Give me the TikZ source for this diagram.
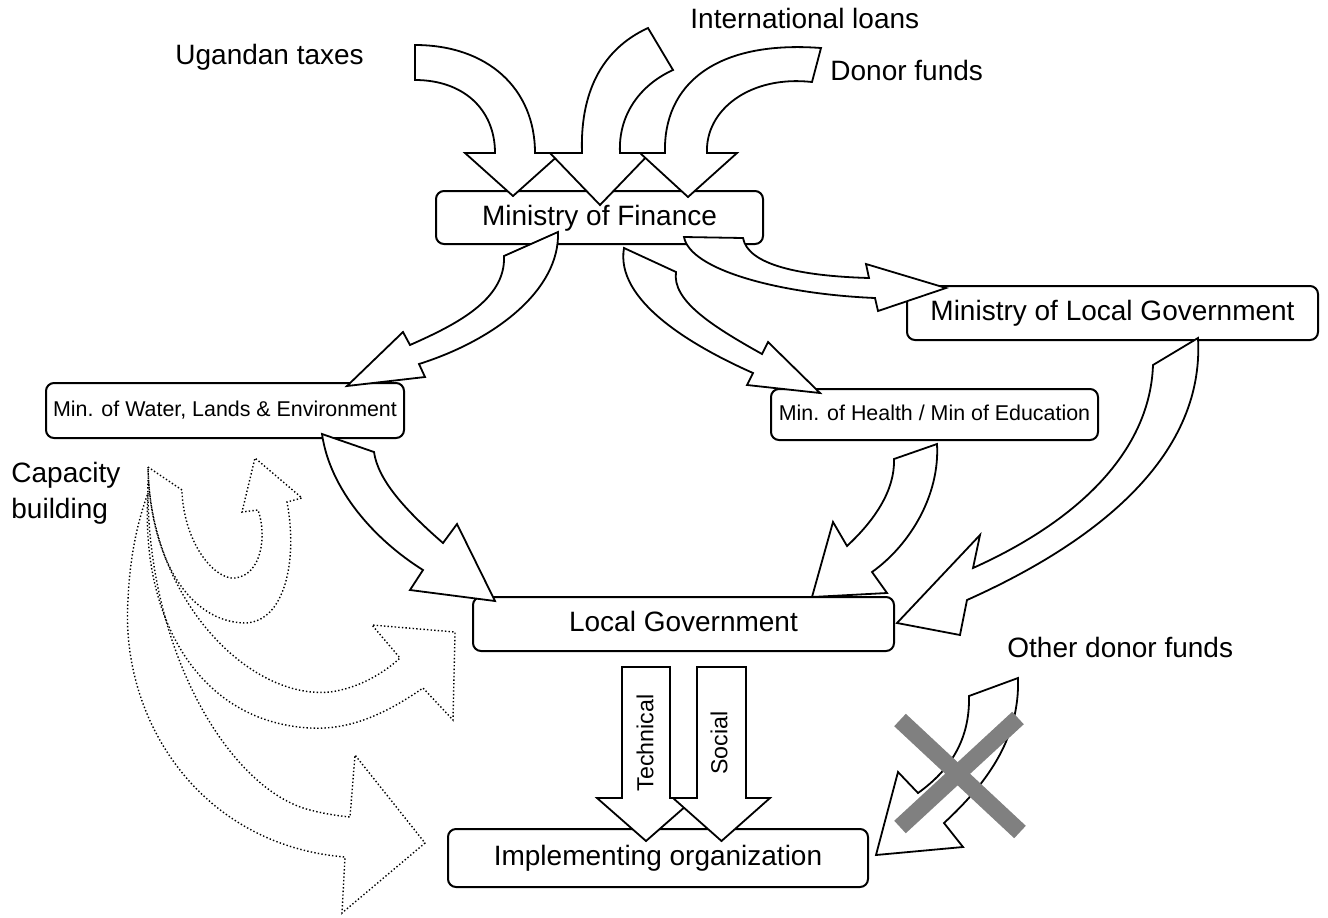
\documentclass[tikz,border=0pt]{standalone}
\usepackage{fontspec}
\setmainfont{Liberation Sans}
\definecolor{xgray}{HTML}{808080}
\begin{document}
\begin{tikzpicture}[x=0.5pt,y=-0.5pt,
  box/.style={draw, line width=1pt, rounded corners=4pt, fill=white, inner sep=0pt,
    font=\fontsize{14}{16}\selectfont, text height=10pt, text depth=2.5pt},
  sbox/.style={box, font=\fontsize{10.7}{13}\selectfont, text height=7.5pt, text depth=1.2pt},
  blk/.style={draw, fill=white, line width=0.9pt, line join=miter, miter limit=10},
  dotarrow/.style={draw, line width=0.7pt, dash pattern=on 0.7pt off 1.1pt, line join=miter},
  lbl/.style={anchor=base west, inner sep=0pt, font=\fontsize{14}{16}\selectfont},
  rlbl/.style={rotate=90, inner sep=0pt, font=\fontsize{11.6}{13}\selectfont},
  xline/.style={draw=xgray, line width=8.5pt}]
\useasboundingbox (0,0) rectangle (1328,917);

% boxes
\node[box, minimum width=163.5pt, minimum height=26.5pt] (mof) at (599.5,217.5) {Ministry of Finance};
\node[box, minimum width=205.5pt, minimum height=27pt] (mlg) at (1112.5,313) {Ministry of Local Government};
\node[sbox, minimum width=179pt, minimum height=27.5pt] (mwle) at (225,410.5) {Min. of Water, Lands \& Environment};
\node[sbox, minimum width=163.5pt, minimum height=25.5pt] (mhe) at (934.5,414.5) {Min. of Health / Min of Education};
\node[box, minimum width=210.5pt, minimum height=27pt] (lg) at (683.5,624) {Local Government};
\node[box, minimum width=210pt, minimum height=29pt] (impl) at (658,858) {Implementing organization};

% labels
\node[lbl] (ltax) at (175,64) {Ugandan taxes};
\node[lbl] (lloan) at (690,28) {International loans};
\node[lbl] (ldon) at (830,80) {Donor funds};
\node[lbl] (lcap1) at (11,482) {Capacity};
\node[lbl] (lcap2) at (11,518) {building};
\node[lbl] (lodf) at (1007,657) {Other donor funds};

% incoming arrows to Ministry of Finance
\path[blk] (415,45) .. controls (487,45) and (535,88) .. (535,153) -- (561,153) -- (513,196) -- (465,153) -- (495,153)
  .. controls (495,109) and (463,80) .. (415,80) -- cycle;
\path[blk] (582,153) .. controls (580,95) and (600,50) .. (648,28) -- (673,70)
  .. controls (640,85) and (618,115) .. (620,153) -- (650,153) -- (600,205) -- (550,153) -- cycle;
\path[blk] (665,153) .. controls (663,85) and (715,40) .. (821,48) -- (812,82)
  .. controls (750,75) and (705,110) .. (707,153) -- (737,153) -- (688,197) -- (640,153) -- cycle;

% Ministry of Finance outgoing
\path[blk] (504,256) .. controls (506,300) and (455,325) .. (410,345) -- (403,332) -- (347,386) -- (425,377) -- (419,364)
  .. controls (495,340) and (560,290) .. (558,232) -- cycle;
\path[blk] (624,248) .. controls (615,300) and (690,345) .. (753,373) -- (747,385) -- (820,393) -- (768,342) -- (762,354)
  .. controls (710,325) and (672,300) .. (676,272) -- cycle;
\path[blk] (743,238) .. controls (748,265) and (800,276) .. (869,278) -- (866,264) -- (946,288) -- (878,311) -- (875,298)
  .. controls (780,294) and (690,270) .. (684,237) -- cycle;

% to Local Government
\path[blk] (322,434) .. controls (330,490) and (375,540) .. (423,570) -- (410,590) -- (495,601) -- (457,524) -- (443,543)
  .. controls (405,510) and (378,480) .. (374,452) -- cycle;
\path[blk] (937,444) .. controls (940,495) and (910,545) .. (872,572) -- (887,593) -- (812,597) -- (833,522) -- (847,546)
  .. controls (875,520) and (895,490) .. (894,459) -- cycle;
\path[blk] (1198,338) -- (1153,365) .. controls (1150,450) and (1080,520) .. (973,568) -- (980,535) -- (897,623) -- (960,635) -- (967,600)
  .. controls (1090,545) and (1205,460) .. (1198,338) -- cycle;

% Technical / Social
\path[blk] (622,667) -- (670,667) -- (670,798) -- (695,798) -- (646,841) -- (597,798) -- (622,798) -- cycle;
\node[rlbl] (tech) at (645,743) {Technical};
\path[blk] (697,667) -- (746,667) -- (746,798) -- (770,798) -- (721.5,841) -- (673,798) -- (697,798) -- cycle;
\node[rlbl] (soc) at (719,743) {Social};

% other donor funds (crossed)
\path[blk] (1018,678) -- (969,696) .. controls (970,740) and (950,770) .. (918,793) -- (898,772) -- (876,855) -- (963,847) -- (944,823)
  .. controls (985,785) and (1020,740) .. (1018,678) -- cycle;
\draw[xline] (900,720) -- (1020,832);
\draw[xline] (1018,718) -- (900,827);

% capacity building (dotted)
\path[dotarrow] (148,467) -- (182,490) -- (182,493) .. controls (185,545) and (215,580) .. (235,578)
  .. controls (262,575) and (267,535) .. (258,510) -- (242,512) -- (255,458) -- (302,498) -- (287,502)
  .. controls (298,560) and (285,622) .. (245,623) .. controls (190,622) and (150,560) .. (148,467) -- cycle;
\path[dotarrow] (148,467) .. controls (150,600) and (250,700) .. (330,692) .. controls (360,688) and (385,672) .. (400,658)
  -- (372,625) -- (455,632) -- (453,720) -- (423,688)
  .. controls (380,718) and (345,730) .. (310,728) .. controls (200,722) and (140,620) .. (148,493);
\path[dotarrow] (148,480) .. controls (145,650) and (230,790) .. (310,810) .. controls (325,814) and (340,816) .. (350,817)
  -- (355,755) -- (425,843) -- (342,913) -- (345,857)
  .. controls (200,845) and (120,720) .. (128,600) .. controls (130,550) and (140,515) .. (148,493);
\end{tikzpicture}
\end{document}
